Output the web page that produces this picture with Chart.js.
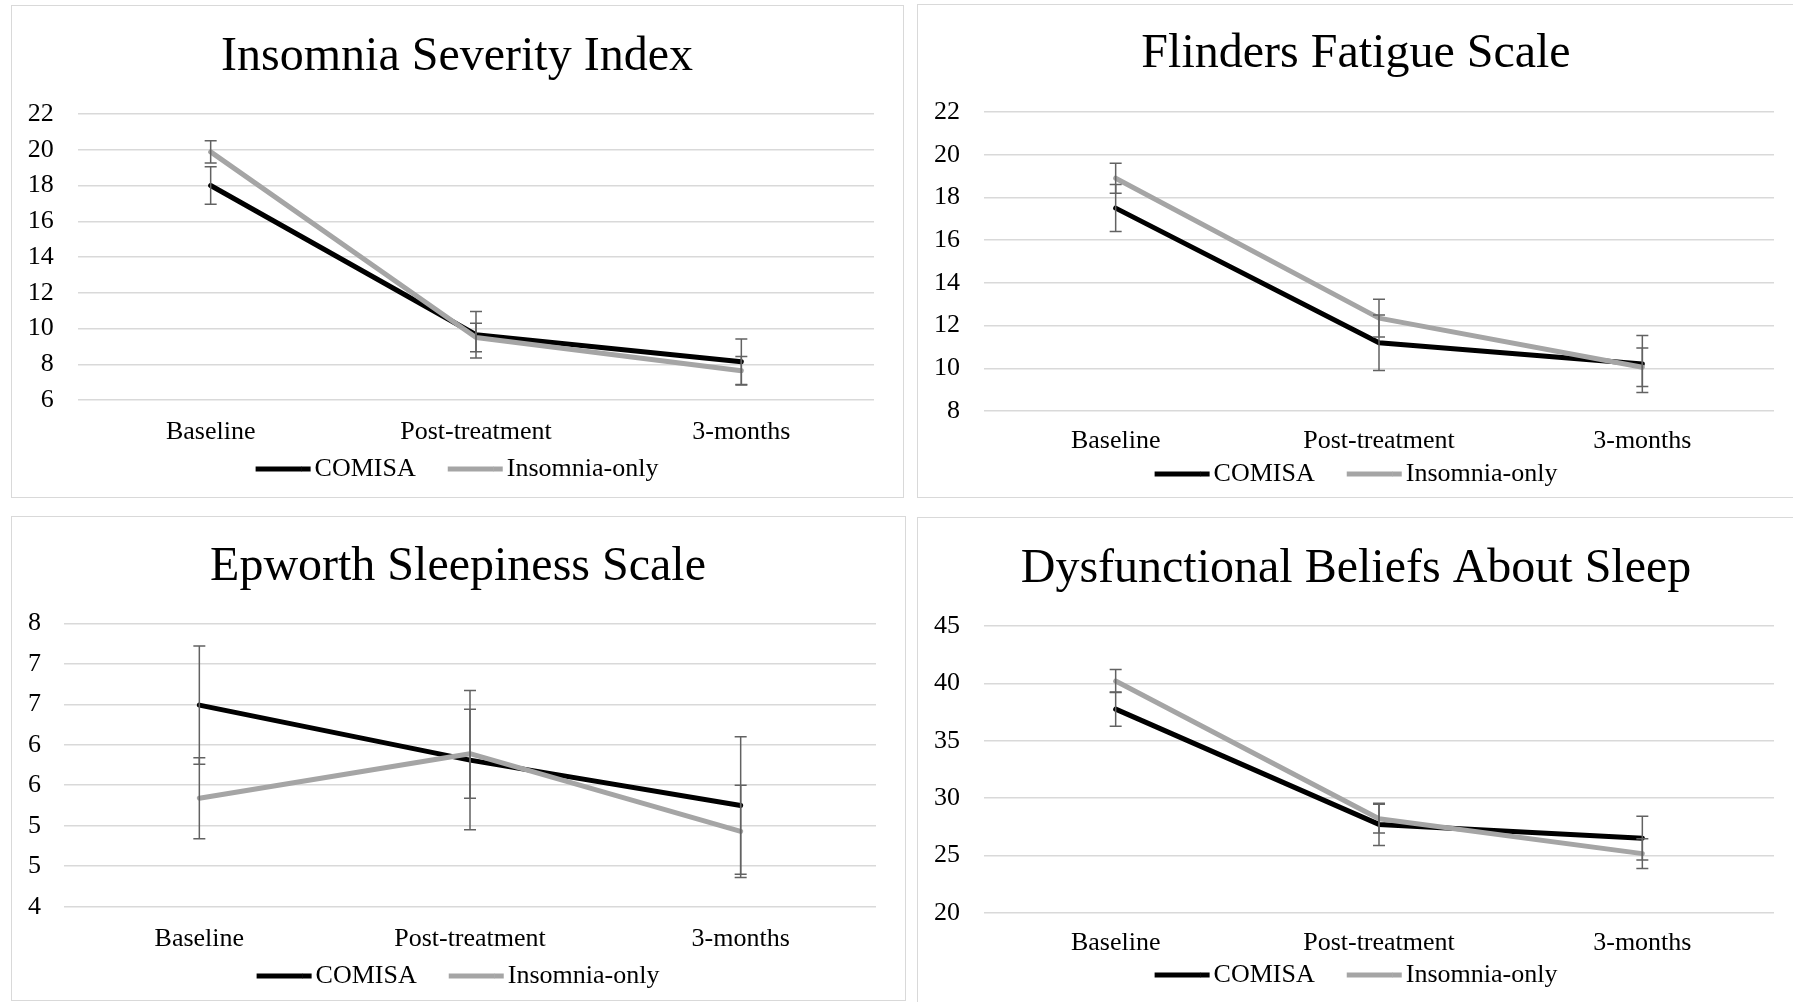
<!DOCTYPE html>
<html>
<head>
<meta charset="utf-8">
<script src="https://cdn.jsdelivr.net/npm/chart.js@4.4.1/dist/chart.umd.min.js"></script>
<style>
  html, body { margin: 0; padding: 0; background: #ffffff; width: 1793px; height: 1002px; overflow: hidden; }
  .box { position: absolute; box-sizing: border-box; border: 1.5px solid #d9d9d9; }
  canvas { position: absolute; }
</style>
</head>
<body>
<div class="box" style="left:11px; top:5px; width:893px; height:493px;"></div>
<div class="box" style="left:917px; top:3.5px; width:900px; height:494.5px;"></div>
<div class="box" style="left:11px; top:516px; width:894.5px; height:485px;"></div>
<div class="box" style="left:917px; top:516.5px; width:900px; height:500px;"></div>

<canvas id="c1" width="890" height="489" style="left:12px; top:7px;"></canvas>
<canvas id="c2" width="874" height="493" style="left:919px; top:5px;"></canvas>
<canvas id="c3" width="892" height="483" style="left:12px; top:518px;"></canvas>
<canvas id="c4" width="874" height="483" style="left:919px; top:519px;"></canvas>

<script>
// ---------------- DATA ----------------
const categories = ['Baseline', 'Post-treatment', '3-months'];
const seriesNames = ['COMISA', 'Insomnia-only'];

// Insomnia Severity Index
const isiComisa = [18.0, 9.65, 8.14];
const isiComisaErr = [1.05, 1.3, 1.27];
const isiInsomnia = [19.88, 9.5, 7.64];
const isiInsomniaErr = [0.62, 0.8, 0.8];
const isiTicks = [6, 8, 10, 12, 14, 16, 18, 20, 22];
const isiTickLabels = ['6', '8', '10', '12', '14', '16', '18', '20', '22'];

// Flinders Fatigue Scale
const ffsComisa = [17.5, 11.2, 10.2];
const ffsComisaErr = [1.1, 1.3, 1.33];
const ffsInsomnia = [18.9, 12.35, 10.05];
const ffsInsomniaErr = [0.7, 0.88, 0.9];
const ffsTicks = [8, 10, 12, 14, 16, 18, 20, 22];
const ffsTickLabels = ['8', '10', '12', '14', '16', '18', '20', '22'];

// Epworth Sleepiness Scale
const essComisa = [6.49, 5.81, 5.25];
const essComisaErr = [0.73, 0.86, 0.85];
const essInsomnia = [5.34, 5.89, 4.93];
const essInsomniaErr = [0.5, 0.55, 0.57];
const essTicks = [4, 4.5, 5, 5.5, 6, 6.5, 7, 7.5];
const essTickLabels = ['4', '5', '5', '6', '6', '7', '7', '8'];

// Dysfunctional Beliefs About Sleep
const dbasComisa = [37.75, 27.7, 26.5];
const dbasComisaErr = [1.5, 1.85, 1.9];
const dbasInsomnia = [40.2, 28.2, 25.15];
const dbasInsomniaErr = [1.0, 1.25, 1.3];
const dbasTicks = [20, 25, 30, 35, 40, 45];
const dbasTickLabels = ['20', '25', '30', '35', '40', '45'];

// ---------------- STYLE ----------------
const FONT = "'Liberation Serif', 'Times New Roman', Times, serif";
const COLORS = ['#000000', '#a5a5a5'];
const LEG_BOX_W = 46;
const LEG_BOX_H = 5;
const LEG_EXT = 9;

const errPlugin = {
  id: 'errbars',
  afterLayout(chart) {
    // let the category labels draw below the (deliberately short) x axis box
    const s = chart.scales.x;
    s.bottom = s.top + 120;
  },
  afterDatasetsDraw(chart, args, opts) {
    const ctx = chart.ctx;
    const y = chart.scales.y;
    ctx.save();
    ctx.strokeStyle = '#626262';
    ctx.lineWidth = 1.5;
    opts.errors.forEach((errs, di) => {
      const meta = chart.getDatasetMeta(di);
      const vals = chart.data.datasets[di].data;
      meta.data.forEach((pt, i) => {
        const x = pt.x;
        const yt = y.getPixelForValue(vals[i] + errs[i]);
        const yb = y.getPixelForValue(vals[i] - errs[i]);
        ctx.beginPath();
        ctx.moveTo(x, yt); ctx.lineTo(x, yb);
        ctx.moveTo(x - 6, yt); ctx.lineTo(x + 6, yt);
        ctx.moveTo(x - 6, yb); ctx.lineTo(x + 6, yb);
        ctx.stroke();
      });
    });
    ctx.restore();
  },
  afterDraw(chart) {
    // lengthen the legend line markers so they sit close to their text
    const lg = chart.legend;
    if (!lg || !lg.legendHitBoxes) return;
    const ctx = chart.ctx;
    ctx.save();
    lg.legendHitBoxes.forEach((hb, i) => {
      const item = lg.legendItems[i];
      ctx.fillStyle = item.fillStyle;
      ctx.fillRect(hb.left + LEG_BOX_W - 0.5, hb.top + (26 - LEG_BOX_H) / 2, LEG_EXT + 0.5, LEG_BOX_H);
    });
    ctx.restore();
  }
};

function makePanel(id, g, title, ticks, tickLabels, comisa, comisaErr, insomnia, insomniaErr) {
  const legendPad = 32;
  const titleLH = 48 * 1.2;
  const titleMid = g.titleBaseline + 3.5 - 16.2;
  const tPadTop = titleMid - g.top - titleLH / 2;
  const tPadBottom = g.plotT - g.top - tPadTop - titleLH;
  const yW = g.plotL - g.left;
  const rW = g.left + g.w - g.plotR;
  const yPad = g.plotL - g.tickRight;
  const xPad = g.catCenter - g.plotB - 15.6;
  const legendTop = g.legendCenter - 13 - legendPad;
  const xH = legendTop - g.plotB;
  const legendH = 26 + legendPad + 10;
  const padBottom = Math.max(0, g.top + g.h - (legendTop + legendH));

  new Chart(document.getElementById(id), {
    type: 'line',
    data: {
      labels: categories,
      datasets: [
        { label: seriesNames[0], data: comisa, borderColor: COLORS[0], backgroundColor: COLORS[0],
          borderWidth: 5, pointRadius: 0, tension: 0, order: 1,
          borderCapStyle: 'round', borderJoinStyle: 'round' },
        { label: seriesNames[1], data: insomnia, borderColor: COLORS[1], backgroundColor: COLORS[1],
          borderWidth: 5, pointRadius: 0, tension: 0, order: 0,
          borderCapStyle: 'round', borderJoinStyle: 'round' }
      ]
    },
    options: {
      responsive: false,
      animation: false,
      devicePixelRatio: 1,
      events: [],
      layout: { padding: { left: 0, right: 0, top: 0, bottom: padBottom } },
      scales: {
        x: {
          type: 'category',
          offset: true,
          grid: { display: false, drawTicks: false },
          border: { display: false },
          ticks: { font: { family: FONT, size: 26 }, color: '#000', padding: xPad, maxRotation: 0, autoSkip: false },
          afterFit: s => { s.height = xH; }
        },
        y: {
          position: 'left',
          min: ticks[0],
          max: ticks[ticks.length - 1],
          grid: { color: '#d9d9d9', lineWidth: 1.5, drawTicks: false },
          border: { display: false },
          ticks: { font: { family: FONT, size: 26 }, color: '#000', padding: yPad, autoSkip: false,
                   callback: (v, i) => tickLabels[i] },
          afterBuildTicks: s => { s.ticks = ticks.map(v => ({ value: v })); },
          afterFit: s => { s.width = yW; }
        },
        yR: {
          position: 'right',
          display: true,
          grid: { display: false, drawTicks: false },
          border: { display: false },
          ticks: { display: false },
          afterFit: s => { s.width = rW; }
        }
      },
      plugins: {
        title: {
          display: true,
          text: title,
          color: '#000',
          font: { family: FONT, size: 48, weight: 'normal', lineHeight: 1.2 },
          padding: { top: tPadTop, bottom: tPadBottom }
        },
        legend: {
          position: 'bottom',
          labels: {
            font: { family: FONT, size: 26 },
            color: '#000',
            boxWidth: LEG_BOX_W,
            boxHeight: LEG_BOX_H,
            padding: legendPad,
            generateLabels: () => seriesNames.map((n, i) => ({
              text: n, fillStyle: COLORS[i], strokeStyle: COLORS[i], lineWidth: 0,
              hidden: false, datasetIndex: i, fontColor: '#000'
            }))
          }
        },
        tooltip: { enabled: false },
        errbars: { errors: [comisaErr, insomniaErr] }
      }
    },
    plugins: [errPlugin]
  });
}

makePanel('c1',
  { left: 12, top: 7, w: 890, h: 489, plotL: 78, plotR: 874, plotT: 114, plotB: 400,
    titleBaseline: 70, catCenter: 431.7, legendCenter: 469, tickRight: 53.7 },
  'Insomnia Severity Index', isiTicks, isiTickLabels, isiComisa, isiComisaErr, isiInsomnia, isiInsomniaErr);

makePanel('c2',
  { left: 919, top: 5, w: 874, h: 493, plotL: 984, plotR: 1774, plotT: 112, plotB: 411,
    titleBaseline: 67.5, catCenter: 441.5, legendCenter: 474, tickRight: 960 },
  'Flinders Fatigue Scale', ffsTicks, ffsTickLabels, ffsComisa, ffsComisaErr, ffsInsomnia, ffsInsomniaErr);

makePanel('c3',
  { left: 12, top: 518, w: 892, h: 483, plotL: 64, plotR: 876, plotT: 623.3, plotB: 906.7,
    titleBaseline: 580.5, catCenter: 939, legendCenter: 976, tickRight: 41 },
  'Epworth Sleepiness Scale', essTicks, essTickLabels, essComisa, essComisaErr, essInsomnia, essInsomniaErr);

makePanel('c4',
  { left: 919, top: 519, w: 874, h: 483, plotL: 984, plotR: 1774, plotT: 626, plotB: 912.7,
    titleBaseline: 582, catCenter: 943, legendCenter: 975, tickRight: 960 },
  'Dysfunctional Beliefs About Sleep', dbasTicks, dbasTickLabels, dbasComisa, dbasComisaErr, dbasInsomnia, dbasInsomniaErr);
</script>
</body>
</html>
